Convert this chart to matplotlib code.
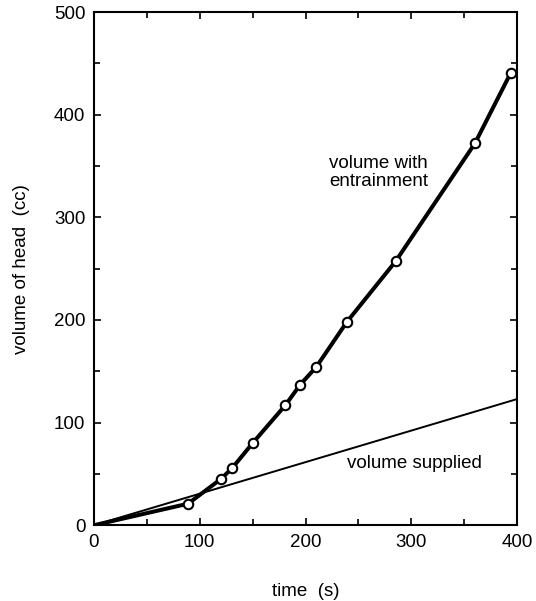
import matplotlib
matplotlib.use("Agg")
import matplotlib.pyplot as plt
from matplotlib.ticker import MultipleLocator

plt.rcParams['font.family'] = ['Liberation Sans', 'DejaVu Sans']

# data
t_entrain = [0, 89, 120, 131, 150, 181, 195, 210, 239, 285, 360, 394]
v_entrain = [0, 21, 45, 56, 80, 117, 137, 154, 198, 257, 372, 441]
t_marked = [89, 120, 131, 150, 181, 195, 210, 239, 285, 360, 394]
v_marked = [21, 45, 56, 80, 117, 137, 154, 198, 257, 372, 441]
t_supplied = [0, 400]
v_supplied = [0, 123]

FS = 13.5

fig = plt.figure(figsize=(5.36, 6.01), dpi=100)
ax = fig.add_axes([0.175, 0.126, 0.790, 0.854])

ax.plot(t_supplied, v_supplied, color='black', lw=1.4, solid_capstyle='butt')
ax.plot(t_entrain, v_entrain, color='black', lw=2.9, solid_joinstyle='round')
ax.plot(t_marked, v_marked, linestyle='none', marker='o', ms=6.8,
        mfc='white', mec='black', mew=1.5)

ax.set_xlim(0, 400)
ax.set_ylim(0, 500)
ax.xaxis.set_major_locator(MultipleLocator(100))
ax.xaxis.set_minor_locator(MultipleLocator(50))
ax.yaxis.set_major_locator(MultipleLocator(100))
ax.yaxis.set_minor_locator(MultipleLocator(50))
ax.tick_params(which='both', direction='in', top=True, right=True,
               width=1.2, labelsize=FS)
ax.tick_params(which='major', length=5, pad=6)
ax.tick_params(which='minor', length=4)
for s in ax.spines.values():
    s.set_linewidth(1.5)

ax.set_xlabel('time  (s)', fontsize=FS, labelpad=23)
ax.set_ylabel('volume of head  (cc)', fontsize=FS, labelpad=17)

ax.text(222, 344, 'volume with\nentrainment', fontsize=FS, ha='left', va='center',
        linespacing=1.1)
ax.text(239, 60, 'volume supplied', fontsize=FS, ha='left', va='center')

fig.savefig('out.png', dpi=100)
